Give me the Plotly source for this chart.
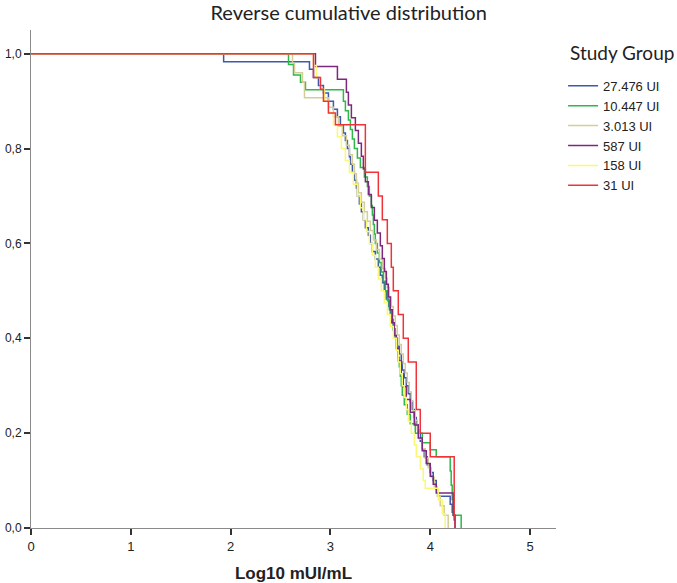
import plotly.graph_objects as go

# ---- data (log10 value of each step, level after the step) ----
groups = ["27.476 UI", "10.447 UI", "3.013 UI", "587 UI", "158 UI", "31 UI"]
colors = ["#3E58AC", "#2EB848", "#D3CE97", "#7C287D", "#FBF873", "#EF3338"]

x_27476 = [0, 1.93, 2.79, 2.83, 2.88, 2.93, 2.98, 3.03, 3.07, 3.10, 3.13, 3.15, 3.17, 3.19, 3.20, 3.22,
           3.24, 3.26, 3.27, 3.29, 3.31, 3.33, 3.35, 3.38, 3.40, 3.42, 3.45, 3.48, 3.50, 3.52, 3.54,
           3.56, 3.58, 3.60, 3.61, 3.63, 3.65, 3.67, 3.69, 3.71, 3.72, 3.74, 3.76, 3.78, 3.80, 3.82,
           3.84, 3.86, 3.88, 3.90, 3.92, 3.94, 3.97, 4.00, 4.03, 4.06, 4.08, 4.20, 4.22, 4.24, 4.25]
y_27476 = [1.0, 0.983, 0.967, 0.95, 0.933, 0.917, 0.90, 0.883, 0.867, 0.85, 0.833, 0.817, 0.80, 0.783,
           0.767, 0.75, 0.733, 0.717, 0.70, 0.683, 0.667, 0.65, 0.633, 0.617, 0.60, 0.583, 0.567, 0.55,
           0.533, 0.517, 0.50, 0.483, 0.467, 0.45, 0.433, 0.417, 0.40, 0.383, 0.367, 0.35, 0.333, 0.317,
           0.30, 0.283, 0.267, 0.25, 0.233, 0.217, 0.20, 0.183, 0.167, 0.15, 0.133, 0.117, 0.10, 0.083,
           0.067, 0.05, 0.033, 0.017, 0.0]

x_10447 = [0, 2.58, 2.63, 2.70, 2.75, 3.13, 3.15, 3.18, 3.20, 3.22, 3.24, 3.27, 3.30, 3.34, 3.37, 3.39,
           3.41, 3.42, 3.43, 3.44, 3.45, 3.47, 3.49, 3.51, 3.53, 3.55, 3.57, 3.59, 3.61, 3.63, 3.65,
           3.67, 3.68, 3.69, 3.70, 3.71, 3.72, 3.74, 3.77, 3.80, 3.85, 3.92, 4.00, 4.06, 4.20, 4.21,
           4.22, 4.23, 4.31]
y_10447 = [1.0, 0.977, 0.955, 0.94, 0.924, 0.90, 0.88, 0.86, 0.84, 0.82, 0.80, 0.78, 0.76, 0.74, 0.72,
           0.70, 0.68, 0.66, 0.64, 0.62, 0.60, 0.58, 0.56, 0.54, 0.52, 0.50, 0.48, 0.46, 0.44, 0.42,
           0.40, 0.38, 0.36, 0.34, 0.32, 0.30, 0.28, 0.26, 0.24, 0.22, 0.20, 0.18, 0.165, 0.15, 0.12,
           0.09, 0.06, 0.027, 0.0]

x_3013 = [0, 2.62, 2.64, 2.72, 2.74, 2.98, 3.03, 3.08, 3.12, 3.16, 3.19, 3.22, 3.24, 3.26, 3.28, 3.31,
          3.34, 3.37, 3.40, 3.43, 3.46, 3.49, 3.52, 3.55, 3.57, 3.59, 3.61, 3.63, 3.65, 3.67, 3.69,
          3.71, 3.73, 3.75, 3.77, 3.79, 3.81, 3.83, 3.85, 3.87, 3.89, 3.92, 3.95, 3.98, 4.01, 4.04,
          4.07, 4.10, 4.14, 4.18]
y_3013 = [1.0, 0.98, 0.96, 0.94, 0.907, 0.887, 0.867, 0.847, 0.827, 0.807, 0.787, 0.767, 0.747, 0.727,
          0.707, 0.687, 0.667, 0.647, 0.627, 0.607, 0.587, 0.567, 0.547, 0.527, 0.507, 0.487, 0.467,
          0.447, 0.427, 0.407, 0.387, 0.367, 0.347, 0.327, 0.307, 0.287, 0.267, 0.247, 0.227, 0.207,
          0.187, 0.167, 0.147, 0.127, 0.107, 0.087, 0.067, 0.047, 0.027, 0.0]

x_587 = [0, 2.85, 3.07, 3.16, 3.18, 3.21, 3.25, 3.28, 3.31, 3.33, 3.35, 3.38, 3.41, 3.44, 3.47, 3.50,
         3.52, 3.54, 3.56, 3.58, 3.60, 3.62, 3.64, 3.66, 3.68, 3.71, 3.73, 3.76, 3.80, 3.84, 3.88,
         3.92, 3.96, 4.00, 4.03, 4.06, 4.23, 4.25]
y_587 = [1.0, 0.973, 0.946, 0.919, 0.892, 0.865, 0.838, 0.811, 0.784, 0.757, 0.73, 0.703, 0.676, 0.649,
         0.622, 0.595, 0.568, 0.541, 0.514, 0.487, 0.46, 0.433, 0.406, 0.379, 0.352, 0.325, 0.298,
         0.271, 0.244, 0.217, 0.19, 0.163, 0.136, 0.109, 0.092, 0.074, 0.027, 0.0]

x_158 = [0, 2.83, 2.86, 2.90, 2.94, 2.98, 3.03, 3.07, 3.11, 3.15, 3.19, 3.23, 3.27, 3.30, 3.33, 3.36,
         3.39, 3.42, 3.45, 3.48, 3.51, 3.54, 3.57, 3.60, 3.63, 3.66, 3.68, 3.70, 3.72, 3.74, 3.76,
         3.78, 3.81, 3.84, 3.86, 3.90, 3.93, 3.95, 4.08, 4.12, 4.15]
y_158 = [1.0, 0.975, 0.95, 0.925, 0.90, 0.875, 0.85, 0.825, 0.80, 0.775, 0.75, 0.725, 0.70, 0.675,
         0.65, 0.625, 0.60, 0.575, 0.55, 0.525, 0.50, 0.475, 0.45, 0.425, 0.40, 0.375, 0.35, 0.325,
         0.30, 0.275, 0.25, 0.225, 0.20, 0.175, 0.15, 0.125, 0.10, 0.084, 0.059, 0.03, 0.0]

x_31 = [0, 2.83, 2.90, 2.93, 2.98, 3.05, 3.35, 3.48, 3.52, 3.57, 3.61, 3.63, 3.68, 3.73, 3.78, 3.86,
        3.90, 4.00, 4.24, 4.25]
y_31 = [1.0, 0.95, 0.925, 0.90, 0.875, 0.85, 0.75, 0.70, 0.65, 0.60, 0.55, 0.50, 0.45, 0.40, 0.35,
        0.25, 0.20, 0.15, 0.025, 0.0]

series_x = [x_27476, x_10447, x_3013, x_587, x_158, x_31]
series_y = [y_27476, y_10447, y_3013, y_587, y_158, y_31]

y_tickvals = [0.0, 0.2, 0.4, 0.6, 0.8, 1.0]
y_ticktext = ["0,0", "0,2", "0,4", "0,6", "0,8", "1,0"]
x_tickvals = [0, 1, 2, 3, 4, 5]

fig = go.Figure()
for name, col, xs, ys in zip(groups, colors, series_x, series_y):
    fig.add_trace(go.Scatter(
        x=xs, y=ys, mode="lines", name=name,
        line=dict(color=col, width=1.5, shape="hv"),
    ))

fig.update_layout(
    width=677, height=583, autosize=False,
    margin=dict(l=31, r=119, t=30, b=55),
    paper_bgcolor="white", plot_bgcolor="white",
    title=dict(text="Reverse cumulative distribution", x=0.515, xref="container",
               y=0.978, yref="container", xanchor="center", yanchor="middle",
               font=dict(family="Lato", size=20, color="#222222")),
    legend=dict(x=1.0135, xanchor="left", y=0.918, yanchor="top",
                font=dict(family="Liberation Sans", size=13, color="#222222"),
                bgcolor="rgba(0,0,0,0)", borderwidth=0),
    showlegend=True,
    annotations=[dict(text="Study Group", xref="paper", yref="paper", x=1.0228, y=0.954,
                      xanchor="left", yanchor="middle", showarrow=False,
                      font=dict(family="Lato", size=19, color="#222222"))],
)
fig.update_xaxes(
    range=[0, 5.26], tickvals=x_tickvals, ticktext=[str(v) for v in x_tickvals],
    automargin=False,
    showgrid=False, zeroline=False, showline=True, linecolor="#8a8a8a", linewidth=1,
    ticks="outside", ticklen=6, tickwidth=1.5, tickcolor="#333333",
    tickfont=dict(family="Liberation Sans", size=13, color="#222222"),
    title=dict(text="<b>Log10 mUI/mL</b>", standoff=14,
               font=dict(family="Liberation Sans", size=17, color="#222222")),
)
fig.update_yaxes(
    range=[0, 1.05], tickvals=y_tickvals, ticktext=y_ticktext,
    automargin=False,
    showgrid=False, zeroline=False, showline=True, linecolor="#8a8a8a", linewidth=1,
    ticks="outside", ticklen=6, tickwidth=1.5, tickcolor="#333333",
    tickfont=dict(family="Liberation Sans", size=12, color="#222222"),
)

# remove the browser's default 8px page margin so the figure sits at the window origin
fig.write_html("out.html", config={"displayModeBar": False},
               post_script="document.body.style.margin='0';")
